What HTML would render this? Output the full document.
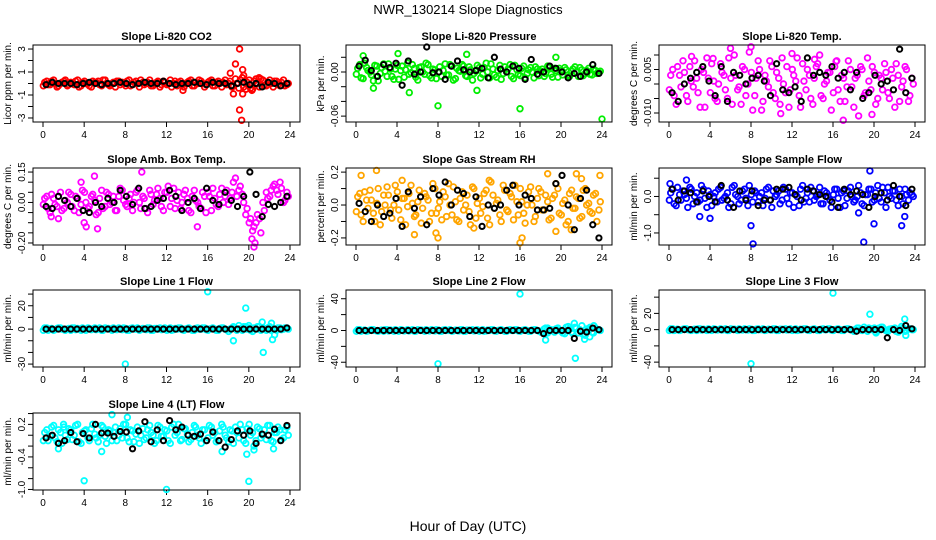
<!DOCTYPE html>
<html><head><meta charset="utf-8">
<style>
body{margin:0;background:#fff;}
svg{display:block;font-family:"Liberation Sans",sans-serif;}
</style></head>
<body>
<svg id="chart" width="936" height="540" viewBox="0 0 936 540" xmlns="http://www.w3.org/2000/svg">
<rect width="936" height="540" fill="#fff"/>
<text x="468" y="14" font-size="13" text-anchor="middle">NWR_130214  Slope Diagnostics</text>
<text x="468" y="531" font-size="14" text-anchor="middle">Hour of Day (UTC)</text>
</svg>
<script>
// ---- data ----
const hourTicks = [0,4,8,12,16,20,24];

const co2Vals = [0.1,-0.1,0.2,0,-0.2,0.1,0.3,-0.1,0,0.2,-0.3,0.1,0,-0.2,0.2,0.1,-0.1,0.3,0,-0.2,0.1,0.2,-0.1,0,0.2,-0.2,0.1,0,0.3,-0.1,0.1,-0.2,0,0.2,-0.1,0.1,0,-0.3,0.2,0.1,-0.1,0,0.2,-0.2,0.1,0.3,0,-0.1,0.2,-0.2,0.1,0,0.1,-0.1,0.2,-0.2,0,0.3,-0.3,0.1,-0.4,0.2,0,0.4,-0.2,0.1,0,0.2,-0.1,0.1,-0.2,0];
const co2ValsB = [-0.2,0.2,-0.1,0.3,-0.3,0,0.2,-0.2,0.1,-0.1,0.3,-0.2,0.2,0,-0.3,0.1,0.2,-0.2,0.3,-0.1,0,-0.3,0.2,0.1,-0.2,0.3,-0.1,0.2,-0.3,0.1,0,0.3,-0.2,0.1,-0.3,0.2,-0.1,0.3,0,-0.2,0.2,-0.3,0.1,0.3,-0.2,0,0.2,-0.3,0.1,0.3,-0.2,0.2,-0.3,0.3,0,-0.3,0.4,-0.4,0.5,-0.5,0.3,-0.5,0.4,-0.3,0.3,-0.2,0.3,-0.3,0.2,-0.2,0.3,-0.1];
const co2OutHours = [18.2,18.7,19.1,18.5,19.4,19.1,19.3,19.4,19.5,21,20.3,13.6];
const co2OutVals = [0.9,1.7,3,-0.9,1.2,-2.3,-3.2,-0.9,0.7,0.5,-0.6,-0.6];
const co2Black = [-0.1,0.1,0,0,0,-0.1,0,0.1,0,-0.1,0,0,0.1,0,-0.1,0,0.1,0,0,0.2,0,-0.1,0,0,0.1,0,-0.1,0.1,0,0,-0.2,0,0.1,-0.1,0,-0.3,0.1,0,-0.2,0];

const presVals = [0.005,-0.008,0.012,0.002,-0.004,0.009,-0.012,0.006,0.001,0.011,-0.006,0.004,-0.01,0.008,0.003,-0.003,0.01,-0.007,0.006,0.0,0.012,-0.005,0.004,-0.009,0.007,0.002,-0.004,0.01,-0.011,0.005,0.001,0.008,-0.006,0.003,-0.002,0.009,-0.008,0.006,0.0,0.011,-0.004,0.002,-0.01,0.007,0.004,-0.006,0.009,-0.003,0.005,-0.008,0.003,0.0,0.007,-0.005,0.004,-0.002,0.006,-0.007,0.002,0.005,-0.004,0.003,-0.006,0.004,0.0,0.006,-0.005,0.002,-0.003,0.004,-0.002,0.001];
const presValsB = [-0.003,0.01,-0.009,0.006,0.0,-0.012,0.008,-0.002,0.011,-0.006,0.004,-0.01,0.009,0.002,-0.007,0.012,-0.001,0.005,-0.011,0.007,-0.003,0.01,-0.008,0.003,0.0,-0.006,0.011,-0.004,0.008,-0.009,0.002,0.01,-0.005,0.007,-0.011,0.001,0.006,-0.003,0.012,-0.008,0.004,-0.007,0.009,-0.002,0.0,0.01,-0.009,0.003,-0.005,0.008,-0.002,0.006,-0.008,0.004,0.001,-0.006,0.008,-0.003,0.005,-0.007,0.002,0.006,-0.004,0.001,0.007,-0.006,0.003,-0.002,0.005,-0.004,0.002,-0.001];
const presOutHours = [5.2,8,16,24,1.7,11.8,4.1,10.8,0.7,19.5];
const presOutVals = [-0.028,-0.046,-0.05,-0.064,-0.022,-0.025,0.025,0.024,0.022,0.02];
const presBlack = [0.008,0.016,0.002,-0.006,0.01,0.006,0.012,-0.018,0.015,-0.003,0.0,0.034,-0.001,0.0,-0.01,0.008,0.015,0.003,0.0,0.002,0.005,-0.008,0.02,0.004,0.0,0.008,0.005,-0.01,0.017,-0.003,0.0,0.008,0.005,0.0,-0.008,-0.002,-0.006,0.0,0.01,-0.002];

const ltempVals = [0.003,-0.004,0.006,-0.001,0.004,-0.006,0.001,0.008,-0.003,0.005,-0.008,0.002,0.007,-0.005,0.0,0.004,-0.002,0.009,-0.007,0.003,-0.001,0.006,-0.004,0.011,-0.009,0.002,0.005,-0.006,0.001,0.008,-0.003,0.004,-0.007,0.0,0.006,-0.002,0.003,0.009,-0.008,0.001,0.005,-0.005,0.002,0.007,-0.004,0.0,0.004,-0.009,0.006,-0.002,0.003,-0.006,0.008,-0.001,0.002,-0.011,0.005,-0.003,0.001,0.006,-0.007,0.003,-0.002,0.004,-0.005,0.002,0.007,-0.006,0.001,0.005,-0.004,0.0];
const ltempValsB = [-0.002,0.005,-0.007,0.003,0.008,-0.004,0.006,-0.001,0.002,-0.008,0.004,0.009,-0.003,0.001,-0.006,0.007,0.003,-0.005,0.002,0.01,-0.002,-0.007,0.005,0.0,0.004,-0.004,0.008,-0.009,0.003,-0.001,0.006,-0.005,0.002,0.009,-0.003,-0.008,0.005,0.001,-0.004,0.007,-0.002,0.003,-0.007,0.006,0.01,-0.005,0.001,0.004,-0.003,0.008,-0.006,0.002,-0.001,0.005,-0.008,0.003,0.006,-0.004,0.009,-0.002,0.004,-0.005,0.002,0.007,-0.003,0.005,-0.008,0.003,-0.001,0.006,-0.006,0.002];
const ltempOutHours = [6,8,12,17,4.3,10.9,16.3,19.8,2.2,14.2];
const ltempOutVals = [0.0123,0.0128,0.0105,-0.0125,0.0088,-0.0102,0.0078,-0.0105,0.0095,0.0085];
const ltempBlack = [-0.003,-0.006,0.0,0.002,0.004,0.006,0.001,-0.004,0.006,-0.006,0.004,0.003,0.0,0.002,0.003,0.001,-0.004,0.007,-0.002,-0.003,-0.001,-0.006,0.009,0.003,0.004,0.003,0.006,0.002,0.004,-0.002,0.004,-0.005,-0.003,0.003,0.0,0.001,-0.002,0.012,-0.003,0.002];

const ambVals = [0.02,-0.03,0.04,-0.01,0.03,-0.04,0.01,0.05,-0.02,0.03,-0.05,0.06,0.0,-0.02,0.04,-0.06,0.02,-0.03,0.05,-0.01,0.03,-0.04,0.07,0.01,-0.02,0.04,0.0,0.06,-0.03,0.02,-0.05,0.04,0.01,0.07,-0.02,0.05,0.08,0.02,-0.03,0.05,0.0,0.06,-0.04,0.03,0.01,-0.02,0.05,-0.05,0.03,0.07,-0.01,0.04,0.0,0.06,0.02,0.1,0.03,0.08,0.0,-0.03,-0.08,-0.12,-0.06,-0.15,-0.04,0.02,0.06,0.09,0.04,0.07,0.01,0.03];
const ambValsB = [-0.01,0.03,-0.05,0.02,-0.02,0.05,-0.03,0.0,0.04,-0.04,0.02,-0.01,0.05,-0.03,0.03,0.01,-0.05,0.06,-0.02,0.04,0.0,-0.04,0.03,0.06,-0.01,0.02,-0.04,0.05,0.0,0.03,-0.03,0.06,-0.01,0.04,0.02,-0.04,0.05,-0.02,0.07,0.01,-0.03,0.04,0.02,-0.05,0.06,0.0,-0.03,0.03,0.05,-0.04,0.02,-0.02,0.07,0.03,-0.01,0.05,0.12,0.06,0.04,-0.06,-0.1,-0.14,-0.1,-0.08,0.0,0.05,0.03,0.08,0.06,0.1,0.0,0.05];
const ambOutHours = [0.8,3.7,4,4.2,5.3,9.6,15,20.3,20.5,20.6,1.5,5];
const ambOutVals = [-0.07,0.1,-0.1,-0.12,-0.13,0.15,-0.12,-0.18,-0.22,-0.2,-0.08,0.13];
const ambBlack = [-0.02,-0.03,0.03,0.01,-0.02,0.02,-0.04,-0.05,0.0,-0.02,0.02,0.0,0.06,0.03,-0.01,0.07,-0.03,-0.02,0.01,0.02,0.06,0.03,-0.04,0.0,0.02,-0.03,0.07,0.01,-0.01,0.05,0.01,-0.02,0.03,0.15,0.04,-0.07,-0.01,-0.02,0.0,0.03];

const rhVals = [0.05,-0.06,0.08,-0.02,0.03,-0.1,0.1,-0.04,0.0,0.06,-0.08,0.12,-0.03,0.04,-0.12,0.07,0.01,-0.06,0.09,-0.02,0.05,-0.1,0.13,-0.05,0.02,0.08,-0.07,0.0,0.11,-0.09,0.04,-0.03,0.06,-0.12,0.1,0.01,-0.05,0.07,-0.08,0.14,-0.02,0.03,-0.1,0.09,-0.04,0.05,0.12,-0.06,0.02,-0.11,0.08,0.0,-0.07,0.1,-0.03,0.06,-0.09,0.04,0.13,-0.05,0.01,-0.12,0.07,-0.02,0.05,-0.08,0.09,0.0,-0.04,0.06,-0.1,0.02];
const rhValsB = [-0.04,0.07,-0.1,0.03,0.09,-0.05,0.01,-0.12,0.06,0.11,-0.03,0.0,0.08,-0.09,0.04,-0.01,0.12,-0.07,0.02,-0.11,0.07,0.03,-0.05,0.1,-0.02,-0.09,0.05,0.13,-0.06,0.02,-0.1,0.08,0.0,-0.04,0.11,-0.08,0.04,-0.01,0.09,-0.12,0.06,0.01,-0.06,0.12,-0.03,0.07,-0.09,0.02,0.1,-0.05,0.0,0.11,-0.1,0.04,0.08,-0.03,0.02,-0.08,0.06,0.1,-0.06,0.03,-0.1,0.09,-0.02,0.04,-0.07,0.1,0.01,-0.05,0.07,-0.03];
const rhOutHours = [0.5,2,4.5,5.7,8,13,16,16.2,18.7,19.5,21.5,23.8,7.8,11.5,21,22];
const rhOutVals = [0.18,0.21,0.15,-0.18,-0.2,0.15,-0.23,-0.2,0.19,-0.16,0.19,0.18,-0.17,-0.14,-0.15,0.16];
const rhBlack = [0.01,-0.04,-0.1,0.0,-0.07,-0.05,0.04,-0.13,0.08,-0.02,0.05,-0.12,0.1,0.06,0.14,0.0,0.09,0.07,-0.07,0.05,-0.13,0.0,-0.02,0.0,0.09,0.12,0.0,0.06,0.04,-0.03,-0.03,-0.02,0.13,0.18,0.0,-0.15,0.04,0.09,-0.12,-0.2];

const sflowVals = [0.1,-0.2,0.25,-0.1,0.05,-0.3,0.2,0.0,-0.15,0.3,-0.05,0.15,-0.25,0.1,0.2,-0.1,0.0,-0.3,0.25,0.05,-0.2,0.15,-0.05,0.3,-0.15,0.1,0.0,-0.25,0.2,-0.1,0.15,0.05,-0.2,0.25,-0.05,0.1,-0.3,0.0,0.2,-0.15,0.1,0.25,-0.1,0.05,-0.2,0.15,0.0,-0.3,0.2,-0.05,0.1,-0.25,0.15,0.0,-0.1,0.3,-0.2,0.05,0.2,-0.15,0.1,-0.05,0.25,-0.3,0.0,0.15,-0.1,0.2,-0.2,0.05,0.1,0.0];
const sflowValsB = [-0.1,0.2,-0.25,0.05,0.15,-0.05,0.25,-0.2,0.1,-0.1,0.2,-0.3,0.05,0.0,-0.15,0.25,-0.05,0.1,-0.2,0.3,0.0,-0.1,0.2,-0.25,0.05,0.15,-0.15,0.1,-0.05,0.25,-0.3,0.0,0.15,-0.1,0.2,-0.2,0.1,0.05,-0.25,0.3,-0.05,-0.15,0.15,0.0,0.25,-0.2,0.1,-0.1,0.05,0.2,-0.3,0.15,-0.05,0.25,-0.15,0.0,0.1,-0.25,0.05,0.2,-0.1,0.3,-0.15,0.1,0.25,-0.05,0.15,-0.25,0.0,0.2,-0.1,0.05];
const sflowOutHours = [8,8.2,19,18.5,20,22.7,0.1,1.7,3,4,19.6,23];
const sflowOutVals = [-0.8,-1.3,-1.25,-0.45,-0.75,-0.8,0.35,0.45,-0.55,-0.6,0.7,-0.55];
const sflowBlack = [0.2,-0.1,0.15,0.1,-0.15,0.15,0.0,-0.15,0.3,-0.1,-0.3,0.15,-0.1,0.15,-0.25,-0.1,-0.1,0.2,0.2,0.25,0.05,-0.1,0.2,0.15,0.05,0.0,-0.15,-0.3,0.2,0.05,0.15,0.05,-0.3,0.0,0.1,-0.1,0.3,0.0,-0.25,0.2];

const line1Vals = [1,-1,0.5,-0.5,1,0,-1,0.5,1,-0.5,0,1,-1,0.5,0,-0.5,1,-1,0.5,0,1,-0.5,0,1,-1,0.5,0,1,-0.5,0,1,-1,0.5,0,-0.5,1,0,-1,0.5,1,-0.5,0,1,-1,0.5,0,1,-0.5,0,1,-1,0.5,1,-0.5,0,2,-1,0.5,2,0,-1,1,2,-1,0.5,1,-1,0,1,-0.5,1,0];
const line1ValsB = [-1,1,0,-1,0.5,1,-0.5,0,-1,1,0.5,-1,0,1,-0.5,1,0,-1,1,0.5,-1,0,1,-0.5,0.5,-1,1,0,-1,0.5,-0.5,1,-1,0.5,1,0,-1,1,-0.5,0,1,-1,0.5,0,-1,1,0,1,-1,0.5,0,-1,1,0,-2,1,0,3,-1,2,1,-2,0,2,1,-1,2,0,-1,1,0,1];
const line1OutHours = [8,16,19.7,18.5,21.3,21.4,22.2,22.3,22.5,20,21];
const line1OutVals = [-30,32,18,-10,6,-20,5,-9,-5,3,2];
const line1Black = [0,0,0,0,0,0,0,0,0,0,0,0,0,0,0,0,0,0,0,0,0,0,0,0,0,0,0,0,0,0,0,0,0,0,0,0,0,0,0,1];

const line2Vals = [1,-1,0.5,-0.5,1,0,-1,0.5,1,-0.5,0,1,-1,0.5,0,-0.5,1,-1,0.5,0,1,-0.5,0,1,-1,0.5,0,1,-0.5,0,1,-1,0.5,0,-0.5,1,0,-1,0.5,1,-0.5,0,1,-1,0.5,0,1,-0.5,0,1,-1,0.5,1,-0.5,-2,3,-1,0.5,2,0,-3,4,2,-4,3,1,-5,2,4,-3,1,0];
const line2ValsB = [-1,1,0,-1,0.5,1,-0.5,0,-1,1,0.5,-1,0,1,-0.5,1,0,-1,1,0.5,-1,0,1,-0.5,0.5,-1,1,0,-1,0.5,-0.5,1,-1,0.5,1,0,-1,1,-0.5,0,1,-1,0.5,0,-1,1,0,1,-1,0.5,0,-1,1,0,-2,2,-3,1,-2,3,-1,-4,5,-2,4,-3,6,-6,2,-2,3,1];
const line2OutHours = [8,16,18.5,18.7,21.3,21.4,22.3,22.8,23.2];
const line2OutVals = [-42,46,-12,3,9,-35,-11,-8,6];
const line2Black = [0,0,0,0,0,0,0,0,0,0,0,0,0,0,0,0,0,0,0,0,0,0,0,0,0,0,0,0,0,0,-4,0,0,0,0,-10,-1,-2,3,1];

const line3Vals = [1,-1,0.5,-0.5,1,0,-1,0.5,1,-0.5,0,1,-1,0.5,0,-0.5,1,-1,0.5,0,1,-0.5,0,1,-1,0.5,0,1,-0.5,0,1,-1,0.5,0,-0.5,1,0,-1,0.5,1,-0.5,0,1,-1,0.5,0,1,-0.5,0,1,-1,0.5,1,-0.5,0,2,-1,0.5,2,0,-3,2,3,-1,0.5,1,-2,0,2,-1,1,0];
const line3ValsB = [-1,1,0,-1,0.5,1,-0.5,0,-1,1,0.5,-1,0,1,-0.5,1,0,-1,1,0.5,-1,0,1,-0.5,0.5,-1,1,0,-1,0.5,-0.5,1,-1,0.5,1,0,-1,1,-0.5,0,1,-1,0.5,0,-1,1,0,1,-1,0.5,0,-1,1,0,-2,2,0,3,-2,1,2,-1,3,0,-2,1,2,-3,4,-2,1,0];
const line3OutHours = [8,16,19.6,23,23.1,20.2];
const line3OutVals = [-42,45,19,13,-7,-4];
const line3Black = [0,0,0,0,0,0,0,0,0,0,0,0,0,0,0,0,0,0,0,0,0,0,0,0,0,0,0,0,0,0,-2,0,0,0,0,-10,0,-1,5,1];

const line4Vals = [0.05,-0.1,0.15,-0.05,0.1,-0.15,0.0,0.12,-0.08,0.18,-0.12,0.05,0.1,-0.1,0.2,-0.05,0.0,0.15,-0.15,0.08,0.05,-0.1,0.12,0.2,-0.05,0.1,-0.12,0.15,0.0,-0.08,0.1,0.05,-0.15,0.18,-0.02,0.1,-0.1,0.15,0.0,0.2,-0.08,0.12,-0.12,0.05,0.15,-0.05,0.1,-0.1,0.18,0.0,-0.12,0.08,0.15,-0.05,0.1,-0.15,0.05,0.2,-0.1,0.12,0.0,-0.2,0.15,-0.05,0.1,0.18,-0.1,0.05,0.15,-0.08,0.1,0.0];
const line4ValsB = [-0.1,0.1,-0.02,0.18,-0.12,0.05,0.15,-0.08,0.1,0.0,0.2,-0.15,0.08,-0.05,0.12,0.02,-0.12,0.18,-0.02,0.1,-0.1,0.15,0.0,-0.05,0.2,-0.12,0.08,0.02,-0.15,0.12,-0.05,0.18,0.0,-0.1,0.15,-0.02,0.08,-0.15,0.2,0.05,-0.1,0.12,0.02,-0.08,0.18,0.0,-0.15,0.1,-0.05,0.15,0.05,-0.1,0.2,0.0,-0.12,0.08,0.15,-0.05,0.1,-0.15,0.2,0.05,-0.1,0.12,0.0,-0.08,0.18,-0.12,0.05,0.1,-0.05,0.15];
const line4OutHours = [4,12,20,6.7,8.2,5.7,17.4,19.8,20.5,22.4,2,1.5];
const line4OutVals = [-0.84,-1.0,-0.85,0.38,0.33,-0.3,-0.3,-0.35,-0.27,-0.25,0.2,-0.25];
const line4Black = [-0.05,0.0,-0.15,-0.1,0.05,-0.12,0.03,-0.05,0.2,0.04,0.04,-0.02,0.07,0.06,-0.25,0.08,0.25,-0.12,0.1,-0.1,0.27,0.1,0.15,0.0,-0.02,0.02,-0.1,0.06,-0.1,-0.22,-0.08,0.08,0.0,0.08,-0.15,0.02,0.0,0.11,-0.1,0.18];

// y tick values and which are labelled
const co2Ticks = [-3,-2,-1,0,1,2,3];          const co2Labels = ["-3","","-1","","1","","3"];
const presTicks = [-0.06,-0.04,-0.02,0,0.02]; const presLabels = ["-0.06","","","0.00",""];
const ltempTicks = [-0.01,-0.005,0,0.005,0.01]; const ltempLabels = ["-0.010","","","0.005",""];
const ambTicks = [-0.2,-0.15,-0.1,-0.05,0,0.05,0.1,0.15]; const ambLabels = ["-0.20","","","","0.00","","","0.15"];
const rhTicks = [-0.2,-0.1,0,0.1,0.2];        const rhLabels = ["-0.2","","0.0","","0.2"];
const sflowTicks = [-1,-0.5,0,0.5];           const sflowLabels = ["-1.0","","0.0",""];
const line1Ticks = [-30,-20,-10,0,10,20,30];  const line1Labels = ["-30","","","0","","20",""];
const line2Ticks = [-40,-20,0,20,40];         const line2Labels = ["-40","","0","","40"];
const line3Ticks = [-40,-20,0,20,40];         const line3Labels = ["-40","","0","20",""];
const line4Ticks = [-1,-0.8,-0.6,-0.4,-0.2,0,0.2,0.4]; const line4Labels = ["-1.0","","","-0.4","","","0.2",""];

// ---- layout ----
const cols = [[33,300],[346,612],[659,925]];
const rowTops = [45,168,290,413];
const H = 77;
const panels = [
 {key:'co2',title:'Slope Li-820 CO2',ylab:'Licor ppm per min.',c:0,r:0,ymin:-3.35,ymax:3.35,col:'#ff0000',vals:co2Vals,valsB:co2ValsB,oh:co2OutHours,ov:co2OutVals,blk:co2Black,ticks:co2Ticks,labels:co2Labels},
 {key:'pressure',title:'Slope Li-820 Pressure',ylab:'kPa per min.',c:1,r:0,ymin:-0.068,ymax:0.0367,col:'#00ee00',vals:presVals,valsB:presValsB,oh:presOutHours,ov:presOutVals,blk:presBlack,ticks:presTicks,labels:presLabels},
 {key:'li-temp',title:'Slope Li-820 Temp.',ylab:'degrees C per min.',c:2,r:0,ymin:-0.0131,ymax:0.01345,col:'#ff00ff',vals:ltempVals,valsB:ltempValsB,oh:ltempOutHours,ov:ltempOutVals,blk:ltempBlack,ticks:ltempTicks,labels:ltempLabels},
 {key:'amb-temp',title:'Slope Amb. Box Temp.',ylab:'degrees C per min.',c:0,r:1,ymin:-0.21,ymax:0.17,col:'#ff00ff',vals:ambVals,valsB:ambValsB,oh:ambOutHours,ov:ambOutVals,blk:ambBlack,ticks:ambTicks,labels:ambLabels},
 {key:'rh',title:'Slope Gas Stream RH',ylab:'percent per min.',c:1,r:1,ymin:-0.243,ymax:0.225,col:'#ffa500',vals:rhVals,valsB:rhValsB,oh:rhOutHours,ov:rhOutVals,blk:rhBlack,ticks:rhTicks,labels:rhLabels},
 {key:'sample-flow',title:'Slope Sample Flow',ylab:'ml/min per min.',c:2,r:1,ymin:-1.33,ymax:0.78,col:'#0000ff',vals:sflowVals,valsB:sflowValsB,oh:sflowOutHours,ov:sflowOutVals,blk:sflowBlack,ticks:sflowTicks,labels:sflowLabels},
 {key:'line1',title:'Slope Line 1 Flow',ylab:'ml/min per min.',c:0,r:2,ymin:-32.5,ymax:33.5,col:'#00ffff',vals:line1Vals,valsB:line1ValsB,oh:line1OutHours,ov:line1OutVals,blk:line1Black,ticks:line1Ticks,labels:line1Labels},
 {key:'line2',title:'Slope Line 2 Flow',ylab:'ml/min per min.',c:1,r:2,ymin:-46,ymax:51,col:'#00ffff',vals:line2Vals,valsB:line2ValsB,oh:line2OutHours,ov:line2OutVals,blk:line2Black,ticks:line2Ticks,labels:line2Labels},
 {key:'line3',title:'Slope Line 3 Flow',ylab:'ml/min per min.',c:2,r:2,ymin:-46,ymax:48.8,col:'#00ffff',vals:line3Vals,valsB:line3ValsB,oh:line3OutHours,ov:line3OutVals,blk:line3Black,ticks:line3Ticks,labels:line3Labels},
 {key:'line4',title:'Slope Line 4 (LT) Flow',ylab:'ml/min per min.',c:0,r:3,ymin:-1.01,ymax:0.41,col:'#00ffff',vals:line4Vals,valsB:line4ValsB,oh:line4OutHours,ov:line4OutVals,blk:line4Black,ticks:line4Ticks,labels:line4Labels}
];

const NS='http://www.w3.org/2000/svg';
const svg=document.getElementById('chart');
function mk(tag,attrs,parent){const e=document.createElementNS(NS,tag);for(const k in attrs)e.setAttribute(k,attrs[k]);(parent||svg).appendChild(e);return e;}

panels.forEach(p=>{
  const [L,R]=cols[p.c]; const T=rowTops[p.r]; const B=T+H;
  const x0=L+10, x1=R-10;
  const xs=h=>x0+(h/24)*(x1-x0);
  const ys=v=>B-(v-p.ymin)/(p.ymax-p.ymin)*(B-T);
  const g=mk('g',{});
  
  
  const t=mk('text',{x:(L+R)/2,y:T-5,'font-size':11,'font-weight':'bold','text-anchor':'middle'},g);
  t.textContent=p.title;
  
  
  const yl=mk('text',{x:0,y:0,'font-size':10,'text-anchor':'middle',transform:`translate(${L-22},${(T+B)/2}) rotate(-90)`},g);
  yl.textContent=p.ylab;
  
  
  const xa=mk('g',{},g);
  
  
  mk('line',{x1:xs(0),x2:xs(24),y1:B,y2:B,stroke:'#000'},xa);
  hourTicks.forEach(h=>{
    mk('line',{x1:xs(h),x2:xs(h),y1:B,y2:B+5,stroke:'#000'},xa);
    const tl=mk('text',{x:xs(h),y:B+16,'font-size':10,'text-anchor':'middle'},xa);
    tl.textContent=h;
    
    
  });
  const ya=mk('g',{},g);
  
  
  p.ticks.forEach((v,i)=>{
    const y=ys(v);
    mk('line',{x1:L-5,x2:L,y1:y,y2:y,stroke:'#000'},ya);
    if(p.labels[i]){
      const tl=mk('text',{x:0,y:0,'font-size':10,'text-anchor':'middle',transform:`translate(${L-8},${y}) rotate(-90)`},ya);
      tl.textContent=p.labels[i];
      
      
    }
  });
  const cg=mk('g',{fill:'none',stroke:p.col,'stroke-width':1.8},g);
  
  
  const n=p.vals.length;
  p.vals.forEach((v,i)=>{
    const c=mk('circle',{cx:xs((i+0.5)*24/n),cy:ys(v),r:2.8},cg);
    
    
  });
  const nb=p.valsB.length;
  p.valsB.forEach((v,i)=>{
    const c=mk('circle',{cx:xs((i+0.1)*24/nb),cy:ys(v),r:2.8},cg);
    
    
  });
  p.oh.forEach((h,i)=>{
    const c=mk('circle',{cx:xs(h),cy:ys(p.ov[i]),r:2.8},cg);
    
    
  });
  const bg=mk('g',{fill:'none',stroke:'#000','stroke-width':2},g);
  
  
  const m=p.blk.length;
  p.blk.forEach((v,i)=>{
    const c=mk('circle',{cx:xs((i+0.5)*24/m),cy:ys(v),r:2.6},bg);
    
    
  });
  const box=mk('rect',{x:L,y:T,width:R-L,height:H,fill:'none',stroke:'#000'},g);
  
  
});
</script>
</body></html>
